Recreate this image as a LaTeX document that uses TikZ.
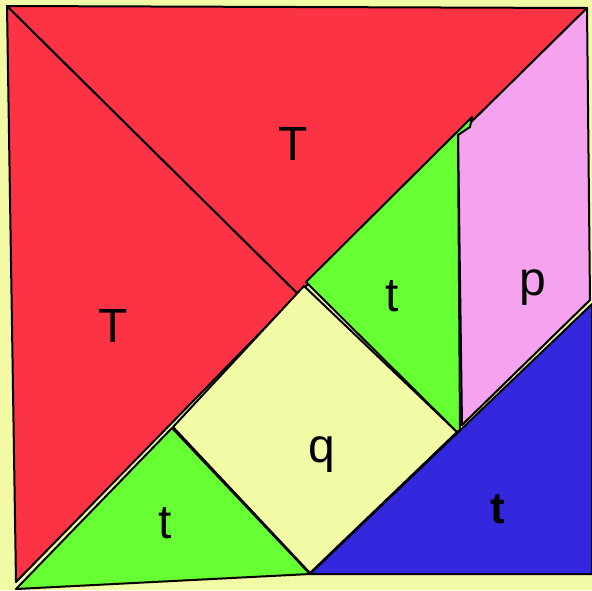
\documentclass[tikz,border=0pt]{standalone}
\usepackage{fontspec}
\setmainfont{Liberation Sans}
\usepackage{tikz}
\definecolor{bgyellow}{RGB}{243,250,166}
\definecolor{tanred}{RGB}{252,51,68}
\definecolor{tangreen}{RGB}{102,255,51}
\definecolor{tanpink}{RGB}{245,163,238}
\definecolor{tanblue}{RGB}{51,40,221}
\tikzset{
  piece/.style={draw=black,line width=2pt,line join=round},
  lbl/.style={font=\fontsize{48}{50}\selectfont,anchor=base,inner sep=0pt}
}

\begin{document}
\begin{tikzpicture}[x=1pt,y=-1pt]
  \useasboundingbox (0,0) rectangle (592,590);
  \fill[bgyellow] (0,0) rectangle (592,590);
  % big triangles
  \draw[piece,fill=tanred] (7,6)--(298,294)--(16,582)--cycle;
  \draw[piece,fill=tanred] (7,6)--(587,8)--(298,294)--cycle;
  % parallelogram
  \draw[piece,fill=tanpink] (458,135)--(587,8)--(590,300)--(462,425)--cycle;
  % square, then the triangles over it
  \draw[piece,fill=bgyellow] (304,286)--(457,432)--(310,573)--(173,427)--cycle;
  \draw[piece,fill=tangreen] (306,282)--(472,117)--(470,127)--(458,135)--(460,430)--(457,432)--cycle;
  \draw[piece,fill=tangreen] (172,428)--(310,574)--(16,589)--cycle;
  \draw[piece,fill=tanblue] (310,574)--(592,304)--(592,574)--cycle;
  % labels
  \node[lbl] (bigtop) at (293,160) {T};
  \node[lbl] (bigleft) at (113,342) {T};
  \node[lbl] (midtri) at (392,311) {t};
  \node[lbl] (para) at (533,295) {p};
  \node[lbl] (square) at (322,462) {q};
  \node[lbl] (smalltri) at (165,538) {t};
  \node[lbl,font=\fontsize{44}{46}\selectfont\bfseries] (bluetri) at (498,523) {t};
\end{tikzpicture}
\end{document}
